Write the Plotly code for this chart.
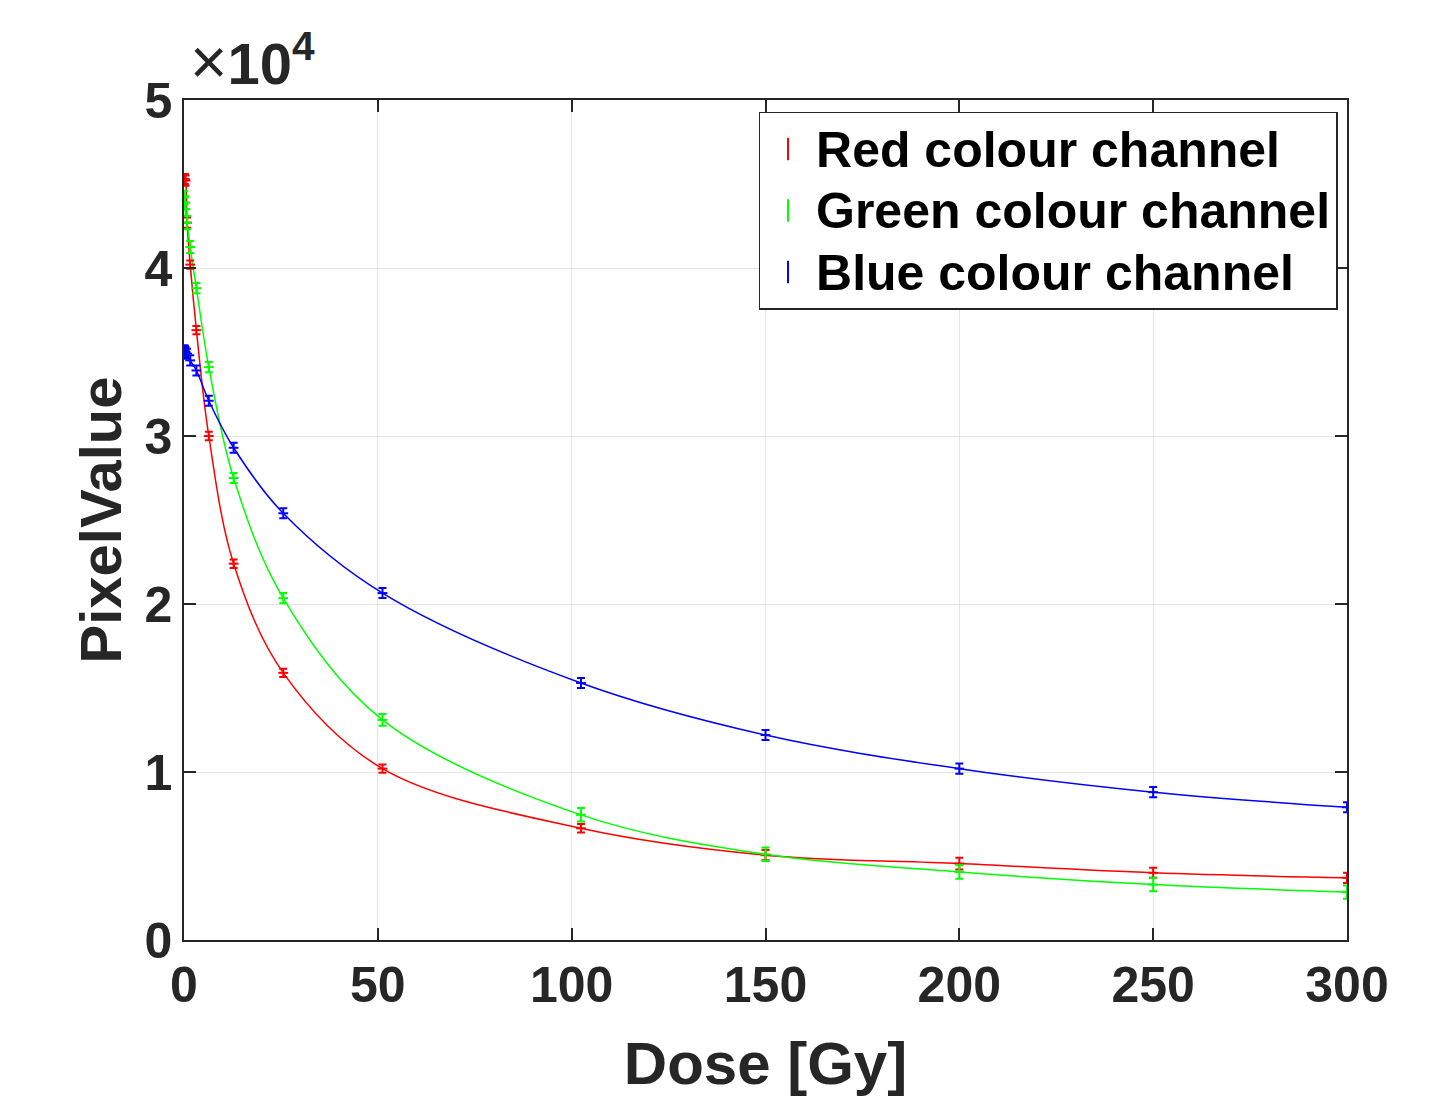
import plotly.graph_objects as go

dose = [0.1, 0.2, 0.4, 0.8, 1.6, 3.2, 6.4, 12.8, 25.6, 51.2, 102.4, 150, 200, 250, 300]
red = [45300, 45300, 45200, 42700, 40200, 36300, 30000, 22400, 15900, 10200, 6650, 5050, 4550, 4000, 3700]
green = [44200, 43900, 43500, 42700, 41250, 38800, 34100, 27500, 20350, 13100, 7450, 5100, 4050, 3300, 2850]
blue = [35100, 35050, 35000, 34900, 34500, 33900, 32100, 29300, 25400, 20650, 15300, 12200, 10200, 8800, 7900]
red_err = [300, 300, 300, 300, 250, 250, 250, 250, 250, 250, 250, 300, 350, 300, 300]
green_err = [400, 400, 400, 400, 350, 300, 300, 300, 300, 350, 400, 400, 400, 400, 400]
blue_err = [300, 300, 300, 300, 300, 300, 300, 300, 300, 300, 300, 300, 300, 300, 300]

names = ["Red colour channel", "Green colour channel", "Blue colour channel"]
colors = ["#ff0000", "#00ff00", "#0000ff"]
series = [red, green, blue]
errs = [red_err, green_err, blue_err]

FONT = "Liberation Sans, Arial"
fig = go.Figure()
for vals, c in zip(series, colors):
    fig.add_trace(go.Scatter(x=dose, y=vals, mode="lines", line=dict(color=c, width=1.5, shape="spline", smoothing=1.0),
                             showlegend=False, hoverinfo="skip"))
for name, vals, err, c in zip(names, series, errs, colors):
    fig.add_trace(go.Scatter(x=dose, y=vals, mode="markers", name=name, showlegend=False,
                             marker=dict(symbol="line-ew", size=7, color=c, line=dict(color=c, width=2)),
                             error_y=dict(type="data", array=err, color=c, thickness=2, width=4)))
# legend entries (error-bar style "I" glyph)
for name, c in zip(names, colors):
    fig.add_trace(go.Scatter(x=[None], y=[None], mode="markers",
                             name='<span style="font-size:50px"><b>%s</b></span>' % name,
                             marker=dict(symbol="line-ns", size=26, color=c, line=dict(color=c, width=2))))

axis_font = dict(family=FONT, size=50, color="#262626")
xt = [0, 50, 100, 150, 200, 250, 300]
fig.update_xaxes(range=[0, 300], tickvals=xt, ticktext=["<b>%d</b>" % v for v in xt],
                 ticks="inside", ticklen=12, tickcolor="#262626", tickwidth=1.5,
                 showline=True, linecolor="#262626", linewidth=1.5, mirror="ticks",
                 showgrid=True, gridcolor="#e6e6e6", gridwidth=1, zeroline=False,
                 tickfont=axis_font,
                 title=dict(text="<b>Dose [Gy]</b>", font=dict(family=FONT, size=60, color="#262626"), standoff=30))
fig.update_yaxes(range=[0, 50000], tickvals=[0, 10000, 20000, 30000, 40000, 50000],
                 ticktext=["<b>0</b>", "<b>1</b>", "<b>2</b>", "<b>3</b>", "<b>4</b>", "<b>5</b>"],
                 ticks="inside", ticklen=12, tickcolor="#262626", tickwidth=1.5,
                 showline=True, linecolor="#262626", linewidth=1.5, mirror="ticks",
                 showgrid=True, gridcolor="#e6e6e6", gridwidth=1, zeroline=False,
                 tickfont=axis_font,
                 title=dict(text="<b>PixelValue</b>", font=dict(family=FONT, size=58, color="#262626"), standoff=4))

fig.add_annotation(xref="paper", yref="paper", x=0.0, y=1.0, xanchor="left", yanchor="bottom", yshift=0, xshift=4,
                   text='<span style="font-size:64px">×</span><b>10<sup>4</sup></b>', showarrow=False,
                   font=dict(family=FONT, size=58, color="#262626"))

fig.update_layout(
    width=1451, height=1097,
    margin=dict(l=184, r=104, t=100, b=157),
    paper_bgcolor="white", plot_bgcolor="white",
    legend=dict(x=0.494, y=0.986, xanchor="left", yanchor="top",
                bgcolor="white", bordercolor="#262626", borderwidth=1.5,
                font=dict(family=FONT, size=45, color="black"),
                itemwidth=46),
)

fig.write_html("out.html")
